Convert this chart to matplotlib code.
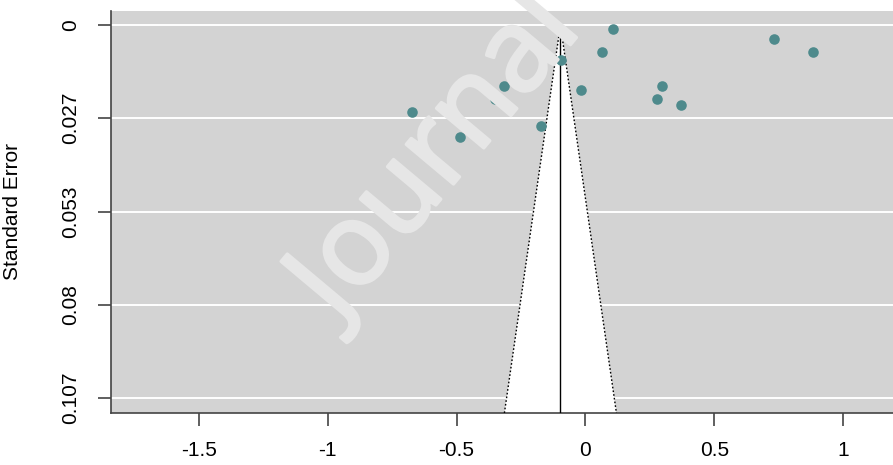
import numpy as np
import matplotlib
matplotlib.use("Agg")
import matplotlib.pyplot as plt
import matplotlib.patheffects as pe

# effect sizes and standard errors
yi = [-0.672, -0.487, -0.349, -0.317, -0.174, -0.096, -0.016, 0.063,
      0.106, 0.297, 0.279, 0.369, 0.730, 0.882]
sei = [0.0249, 0.0319, 0.0211, 0.0173, 0.0288, 0.0101, 0.0186, 0.0077,
       0.0011, 0.0175, 0.0211, 0.0229, 0.0039, 0.0078]
b_est = -0.097
yticks = [0, 0.10667 / 4, 0.10667 / 2, 0.10667 * 3 / 4, 0.10667]
yticklabels = ["0", "0.027", "0.053", "0.08", "0.107"]
xticks = [-1.5, -1, -0.5, 0, 0.5, 1]
xticklabels = ["-1.5", "-1", "-0.5", "0", "0.5", "1"]

plt.rcParams['font.family'] = ['Liberation Sans', 'DejaVu Sans']

W, H = 893, 465
fig = plt.figure(figsize=(W / 100, H / 100), dpi=100)

# axes spans past the right edge, like the cropped original
x_left, x_right = -1.841, 1.35
px_per_unit = 258.0
right_px = 585 + x_right * px_per_unit
ax_w = right_px - 111
ax = fig.add_axes([111 / W, 52 / H, ax_w / W, 402 / H])
ax.set_xlim(x_left, x_right)
ylo, yhi = -0.004, 0.1109
ax.set_ylim(yhi, ylo)
ax.set_facecolor('#d3d3d3')

for yt in yticks:
    ax.axhline(yt, color='white', lw=1.4, zorder=1)

# funnel region
se_bot = yhi
fx = [b_est - 1.96 * se_bot, b_est, b_est + 1.96 * se_bot]
fy = [se_bot, 0, se_bot]
ax.fill(fx, fy, color='white', zorder=2, lw=0)
ax.plot(fx, fy, color='black', ls=(0, (1.2, 1.5)), lw=1, zorder=3)
ax.plot([b_est, b_est], [0, se_bot], color='black', lw=1, zorder=3)

ax.scatter(yi, sei, s=58, color='#4e8a8c', zorder=4, lw=0)

for side in ['top', 'right']:
    ax.spines[side].set_visible(False)
for side in ['left', 'bottom']:
    ax.spines[side].set_color('#444444')
    ax.spines[side].set_linewidth(1.2)

ax.set_xticks(xticks)
ax.set_xticklabels(xticklabels, fontsize=15)
ax.set_yticks(yticks)
ax.set_yticklabels(yticklabels, fontsize=15, rotation=90, va='center')
ax.tick_params(length=9.5, width=1.2, color='#444444')
ax.tick_params(axis='x', pad=11)
ax.tick_params(axis='y', pad=13)
ax.set_ylabel("Standard Error", fontsize=15)
ax.yaxis.set_label_coords((22 - 111) / ax_w, 0.5)

# watermark
wm = fig.text(437 / W, 1 - 157 / H, "Journal", rotation=50, ha='center', va='center',
              fontsize=83, color='#e6e6e6', family='Open Sans',
              zorder=10, rotation_mode='anchor')
wm.set_path_effects([pe.withStroke(linewidth=2.4, foreground='#e6e6e6')])

fig.savefig("out.png", dpi=100)
